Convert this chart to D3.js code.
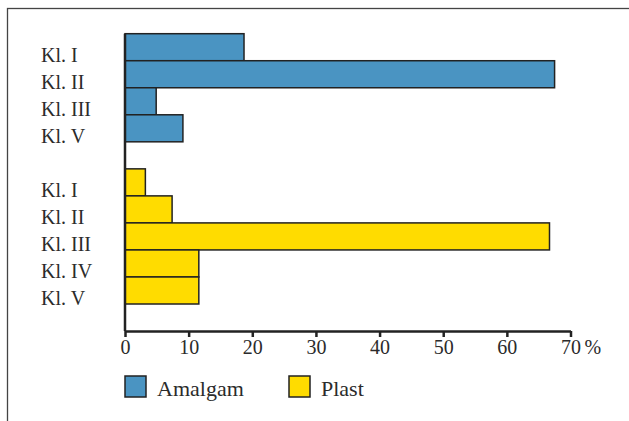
<!DOCTYPE html>
<html>
<head>
<meta charset="utf-8">
<script src="https://cdn.jsdelivr.net/npm/d3@7"></script>
<style>
  html, body { margin: 0; padding: 0; background: #fff; }
  svg { display: block; }
  text { font-family: "Liberation Serif", "Times New Roman", serif; fill: #2b2b2b; }
</style>
</head>
<body>
<svg id="chart" width="629" height="421"></svg>
<script>
// ---- data ----
const amalgamCategories = ["Kl. I", "Kl. II", "Kl. III", "Kl. V"];
const amalgamValues     = [18.7, 67.5, 4.9, 9.1];
const plastCategories   = ["Kl. I", "Kl. II", "Kl. III", "Kl. IV", "Kl. V"];
const plastValues       = [3.2, 7.4, 66.7, 11.6, 11.6];
const seriesNames       = ["Amalgam", "Plast"];
const seriesColors      = ["#4a94c2", "#ffdc00"];
const xTicks            = [0, 10, 20, 30, 40, 50, 60, 70];
const xUnit             = "%";

// ---- build rows ----
const rows = [];
amalgamCategories.forEach((c, i) => rows.push({ key: "A-" + c, label: c, value: amalgamValues[i], s: 0 }));
rows.push({ key: "gap", label: "", value: null, s: -1 });
plastCategories.forEach((c, i) => rows.push({ key: "P-" + c, label: c, value: plastValues[i], s: 1 }));

const svg = d3.select("#chart");

// frame
svg.append("rect")
  .attr("x", 7.5).attr("y", 8.5)
  .attr("width", 700).attr("height", 500)
  .attr("fill", "none").attr("stroke", "#444").attr("stroke-width", 1.3);

const x = d3.scaleLinear().domain([0, 70]).range([125, 570.5]);
const y = d3.scaleBand().domain(rows.map(r => r.key)).range([33.7, 304]).padding(0);
const axisY = 331;

// bars
svg.append("g").selectAll("rect")
  .data(rows.filter(r => r.value !== null))
  .join("rect")
  .attr("x", x(0))
  .attr("y", r => y(r.key))
  .attr("width", r => x(r.value) - x(0))
  .attr("height", y.bandwidth())
  .attr("fill", r => seriesColors[r.s])
  .attr("stroke", "#222")
  .attr("stroke-width", 1.5);

// category labels
svg.append("g").selectAll("text")
  .data(rows.filter(r => r.value !== null))
  .join("text")
  .attr("x", 41)
  .attr("y", r => y(r.key) + y.bandwidth() + 1)
  .attr("font-size", 20)
  .text(r => r.label);

// vertical axis line
svg.append("line")
  .attr("x1", x(0)).attr("x2", x(0))
  .attr("y1", 33.7).attr("y2", axisY)
  .attr("stroke", "#222").attr("stroke-width", 2.5);

// x axis
const xAxis = d3.axisBottom(x).tickValues(xTicks).tickSize(6).tickSizeOuter(0).tickFormat(d3.format("d"));
const gx = svg.append("g").attr("transform", `translate(0,${axisY})`).call(xAxis);
gx.select(".domain").attr("stroke", "#222").attr("stroke-width", 2.5);
gx.selectAll(".tick line").attr("stroke", "#222").attr("stroke-width", 2.5);
gx.selectAll(".tick text")
  .attr("font-family", "Liberation Serif, serif")
  .attr("font-size", 20)
  .attr("fill", "#2b2b2b");
gx.append("text")
  .attr("x", x(70) + 14)
  .attr("y", 9)
  .attr("dy", "0.71em")
  .attr("text-anchor", "start")
  .attr("font-family", "Liberation Serif, serif")
  .attr("font-size", 20)
  .attr("fill", "#2b2b2b")
  .text(xUnit);

// legend
const legendX = [125, 289];
const lg = svg.append("g").selectAll("g")
  .data(seriesNames)
  .join("g")
  .attr("transform", (d, i) => `translate(${legendX[i]},376)`);
lg.append("rect")
  .attr("width", 21).attr("height", 21)
  .attr("fill", (d, i) => seriesColors[i])
  .attr("stroke", "#222").attr("stroke-width", 1.5);
lg.append("text")
  .attr("x", 32).attr("y", 20)
  .attr("font-size", 22)
  .text(d => d);
</script>
</body>
</html>
